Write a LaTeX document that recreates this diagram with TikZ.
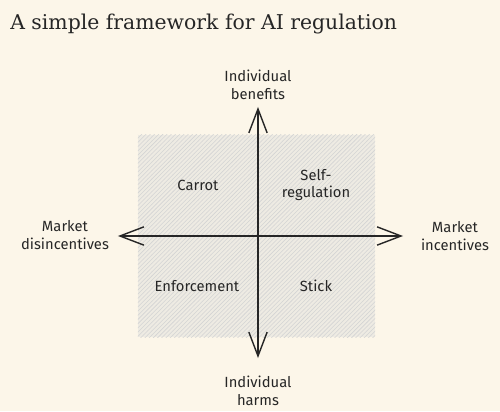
\documentclass[tikz,border=0pt]{standalone}
\usepackage{fontspec}
\newfontfamily\sketchfont{Fira Sans}
\newfontfamily\titlefont{DejaVu Serif}
\usepackage{tikz}
\usetikzlibrary{positioning,arrows.meta,patterns}
\usepackage{xcolor}
\definecolor{paper}{HTML}{FCF6E9}
\definecolor{ink}{HTML}{262626}
\definecolor{hatchbg}{HTML}{EEEBE3}

\begin{document}
\begin{tikzpicture}[
  axis/.style={ink,line width=1pt,{Straight Barb[length=17pt,width=13pt]}-{Straight Barb[length=17pt,width=13pt]}},
  lbl/.style={font=\sketchfont\fontsize{10.5}{12.5}\selectfont,ink,align=center},
]
% paper
\fill[paper] (-6.45,-4.375) rectangle (6.05,5.9);
\useasboundingbox (-6.45,-4.375) rectangle (6.05,5.9);
% title
\node[font=\titlefont\fontsize{14.5}{17}\selectfont,ink,anchor=base west,inner sep=0pt] (title) at (-6.2,5.15) {A simple framework for AI regulation};
% hatched quadrant field
\fill[hatchbg] (-3,-2.525) rectangle (2.925,2.525);
\fill[pattern=north east lines,pattern color=black!17] (-3,-2.525) rectangle (2.925,2.525);
% axis ends
\coordinate (up) at (0,3.225);
\coordinate (down) at (0,-3.05);
\coordinate (west) at (-3.5,0);
\coordinate (east) at (3.625,0);
\draw[axis] (down) -- (up);
\draw[axis] (west) -- (east);
% axis labels
\node[lbl] (benefits) at (0,3.775) {Individual\\benefits};
\node[lbl] (harms) at (0,-3.875) {Individual\\harms};
\node[lbl] (disinc) at (-4.825,0.025) {Market\\disincentives};
\node[lbl] (inc) at (4.925,0) {Market\\incentives};
% quadrants
\node[lbl] (carrot) at (-1.5,1.275) {Carrot};
\node[lbl] (selfreg) at (1.45,1.275) {Self-\\regulation};
\node[lbl] (enforce) at (-1.525,-1.25) {Enforcement};
\node[lbl] (stick) at (1.45,-1.25) {Stick};
\end{tikzpicture}
\end{document}
